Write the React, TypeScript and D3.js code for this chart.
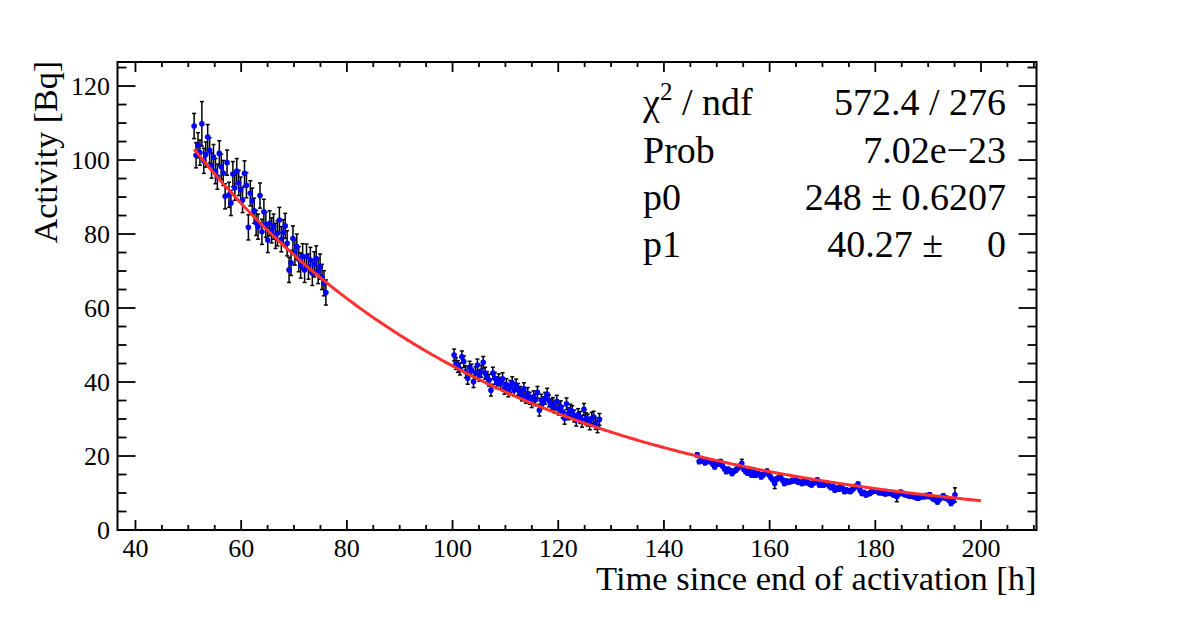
import { useRef, useEffect } from "react";
import * as d3 from "d3";

const WIDTH = 1182;
const HEIGHT = 619;

// one measurement every 22 minutes
const STEP_H = 22 / 60;

// run 1 (start time in hours after end of activation, activities in Bq)
const run1Start = 51.1;
const run1Activity = [
  109.2, 101.3, 104.0, 102.0, 109.8, 99.8, 101.5, 106.2, 102.6, 98.5,
  100.8, 97.0, 95.5, 101.8, 98.2, 96.5, 90.2, 99.3, 90.6, 88.4,
  96.2, 92.5, 97.0, 93.8, 92.0, 89.2, 96.4, 93.2, 81.8, 91.0,
  89.0, 86.3, 83.0, 82.0, 90.4, 80.6, 86.0, 82.5, 78.4, 82.9,
  81.0, 82.0, 79.5, 80.2, 83.8, 78.6, 80.5, 82.2, 77.5, 70.3,
  72.2, 78.8, 75.0, 76.6, 73.2, 71.5, 74.0, 70.3, 73.9, 71.2,
  73.0, 69.5, 71.8, 73.4, 70.0, 71.2, 68.4, 66.7, 64.2,
];

// run 2
const run2Start = 100.3;
const run2Activity = [
  47.3, 45.0, 44.2, 43.5, 46.8, 45.5, 42.8, 41.0, 44.0, 43.2,
  40.1, 42.5, 44.6, 41.8, 42.9, 45.3, 42.4, 41.2, 40.5, 37.8,
  42.4, 41.0, 39.8, 40.6, 39.6, 40.9, 38.3, 39.3, 37.6, 38.8,
  39.8, 37.8, 39.2, 38.0, 37.2, 36.5, 38.2, 35.9, 36.9, 35.6,
  34.7, 36.0, 35.2, 37.2, 32.4, 35.1, 34.4, 35.6, 36.7, 34.9,
  33.8, 34.2, 33.2, 34.8, 32.7, 33.3, 31.9, 30.2, 34.1, 31.4,
  32.4, 32.0, 30.8, 29.7, 31.2, 30.4, 29.4, 32.6, 30.1, 29.7,
  28.7, 30.2, 30.5, 28.8, 27.9, 29.9,
];

// run 3
const run3Start = 146.3;
const run3Activity = [
  20.3, 18.5, 18.9, 18.7, 18.2, 18.8, 18.5, 18.6, 17.9, 17.1,
  18.2, 17.8, 18.5, 17.4, 16.6, 15.8, 16.4, 16.0, 15.3, 15.9,
  16.2, 16.8, 17.2, 18.0, 16.5, 15.8, 15.4, 15.9, 14.9, 15.6,
  14.8, 15.3, 15.0, 14.4, 14.9, 15.4, 15.9, 15.0, 14.2, 13.6,
  12.6, 13.8, 14.1, 14.4, 13.5, 12.6, 13.2, 12.9, 13.1, 13.4,
  13.3, 13.7, 13.0, 12.9, 12.6, 13.2, 12.8, 13.1, 12.5, 12.2,
  12.7, 13.0, 13.5, 12.2, 12.6, 12.1, 12.4, 12.6, 12.0, 11.5,
  11.8, 10.8, 11.3, 11.0, 11.7, 11.2, 10.4, 10.8, 10.6, 10.4,
  10.9, 11.4, 11.8, 12.4, 10.8, 9.9, 10.1, 9.5, 9.8, 9.9,
  10.3, 10.5, 10.6, 10.4, 10.1, 10.2, 10.0, 9.8, 9.9, 10.1,
  9.9, 9.6, 9.4, 9.0, 9.8, 10.2, 9.9, 9.6, 9.5, 9.3,
  9.2, 9.4, 9.0, 8.8, 8.6, 8.9, 9.2, 9.0, 9.3, 9.1,
  9.5, 8.8, 8.4, 8.2, 7.6, 8.3, 8.8, 9.2, 8.7, 8.5,
  8.1, 7.2, 7.8, 9.5,
];

// typical uncertainty per run [Bq]
const runErrors = [3.4, 1.6, 0.55];
// points with a visibly larger error bar: [run, index, error]
const largeErrors: [number, number, number][] = [
  [0, 4, 6.0],
  [2, 23, 1.1],
  [2, 40, 1.4],
  [2, 103, 1.35],
  [2, 133, 1.9],
];

// fit: A(t) = p0 * exp(-ln2 * t / p1)
const fitP0 = 248;
const fitP1 = 40.27;
const fitFrom = 51.1;
const fitTo = 200;

const statLabels = ["χ2 / ndf", "Prob", "p0", "p1"];
const statValues = ["572.4 / 276", "7.02e\u221223", "248 \u00b1 0.6207", "40.27 \u00b1"];
const statExtra = ["", "", "", "0"];

const xTicks = [40, 60, 80, 100, 120, 140, 160, 180, 200];
const yTicks = [0, 20, 40, 60, 80, 100, 120];

export default function App() {
  const svgRef = useRef<SVGSVGElement>(null);

  useEffect(() => {
    if (!svgRef.current) return;
    const svg = d3.select(svgRef.current);
    svg.selectAll("*").remove();

    const font = "'Liberation Serif', 'Times New Roman', serif";
    const left = 117.5, right = 1036.5, top = 62, bottom = 530;

    const x = d3.scaleLinear().domain([36.6, 210.5]).range([left, right]);
    const y = d3.scaleLinear().domain([0, 126.5]).range([bottom, top]);

    const runs = [
      { start: run1Start, values: run1Activity },
      { start: run2Start, values: run2Activity },
      { start: run3Start, values: run3Activity },
    ];
    const points = runs.flatMap((r, ri) =>
      r.values.map((v, i) => {
        const big = largeErrors.find(e => e[0] === ri && e[1] === i);
        return { t: r.start + i * STEP_H, v, e: big ? big[2] : runErrors[ri] };
      })
    );

    // error bars
    const bars = svg.append("g").attr("stroke", "#000").attr("stroke-width", 1.5);
    bars.selectAll("line.v").data(points).join("line")
      .attr("x1", d => x(d.t)).attr("x2", d => x(d.t))
      .attr("y1", d => y(d.v - d.e)).attr("y2", d => y(d.v + d.e));
    bars.selectAll("line.c1").data(points).join("line")
      .attr("x1", d => x(d.t) - 2).attr("x2", d => x(d.t) + 2)
      .attr("y1", d => y(d.v + d.e)).attr("y2", d => y(d.v + d.e));
    bars.selectAll("line.c2").data(points).join("line")
      .attr("x1", d => x(d.t) - 2).attr("x2", d => x(d.t) + 2)
      .attr("y1", d => y(d.v - d.e)).attr("y2", d => y(d.v - d.e));

    // markers
    svg.append("g").selectAll("circle").data(points).join("circle")
      .attr("cx", d => x(d.t)).attr("cy", d => y(d.v))
      .attr("r", 2.8).attr("fill", "#0000ff");

    // fit curve
    const fit = (t: number) => fitP0 * Math.exp(-Math.LN2 * t / fitP1);
    const ts = d3.range(fitFrom, fitTo, 0.5).concat([fitTo]);
    const line = d3.line<number>().x(t => x(t)).y(t => y(fit(t)));
    svg.append("path").attr("d", line(ts))
      .attr("fill", "none").attr("stroke", "#ff3030").attr("stroke-width", 3);

    // stats box
    svg.append("rect").attr("x", 625).attr("y", 72).attr("width", 400).attr("height", 196)
      .attr("fill", "#fff");
    const rowY = [115, 163, 210, 257];
    const statSize = "38px";
    statLabels.forEach((lab, i) => {
      const t = svg.append("text").attr("x", 643).attr("y", rowY[i])
        .style("font-family", font).style("font-size", statSize);
      if (lab.startsWith("χ2")) {
        t.append("tspan").text("χ");
        t.append("tspan").attr("dy", -15).style("font-size", "25px").text("2");
        t.append("tspan").attr("dy", 15).text(" / ndf");
      } else {
        t.text(lab);
      }
      const extra = statExtra[i];
      svg.append("text").attr("x", extra ? 943 : 1006).attr("y", rowY[i])
        .attr("text-anchor", "end")
        .style("font-family", font).style("font-size", statSize)
        .text(statValues[i]);
      if (extra) {
        svg.append("text").attr("x", 1006).attr("y", rowY[i])
          .attr("text-anchor", "end")
          .style("font-family", font).style("font-size", statSize)
          .text(extra);
      }
    });

    // frame + ticks
    const axes = svg.append("g").attr("stroke", "#000").attr("fill", "none");
    axes.append("rect").attr("x", left).attr("y", top)
      .attr("width", right - left).attr("height", bottom - top).attr("stroke-width", 2);

    const xMinor = d3.range(40, 211, 5).filter(v => !xTicks.includes(v));
    const yMinor = d3.range(0, 127, 5).filter(v => !yTicks.includes(v));
    const tickGroup = axes.append("g").attr("stroke-width", 1.8);
    const addX = (vals: number[], len: number) => {
      vals.forEach(v => {
        tickGroup.append("line").attr("x1", x(v)).attr("x2", x(v)).attr("y1", bottom).attr("y2", bottom - len);
        tickGroup.append("line").attr("x1", x(v)).attr("x2", x(v)).attr("y1", top).attr("y2", top + len);
      });
    };
    const addY = (vals: number[], len: number) => {
      vals.forEach(v => {
        tickGroup.append("line").attr("x1", left).attr("x2", left + len).attr("y1", y(v)).attr("y2", y(v));
        tickGroup.append("line").attr("x1", right).attr("x2", right - len).attr("y1", y(v)).attr("y2", y(v));
      });
    };
    addX(xTicks, 10);
    addX(xMinor, 5);
    addY(yTicks, 18);
    addY(yMinor, 9);

    // tick labels
    svg.append("g").selectAll("text").data(xTicks).join("text")
      .attr("x", d => x(d)).attr("y", 557).attr("text-anchor", "middle")
      .style("font-family", font).style("font-size", "26px").text(d => d);
    svg.append("g").selectAll("text").data(yTicks).join("text")
      .attr("x", 110).attr("y", d => y(d) + 9).attr("text-anchor", "end")
      .style("font-family", font).style("font-size", "26px").text(d => d);

    // axis titles
    svg.append("text").attr("x", right).attr("y", 590).attr("text-anchor", "end")
      .style("font-family", font).style("font-size", "34.5px")
      .text("Time since end of activation [h]");
    svg.append("text").attr("transform", `translate(57, ${top - 1}) rotate(-90)`)
      .attr("text-anchor", "end")
      .style("font-family", font).style("font-size", "34px")
      .text("Activity [Bq]");
  }, []);

  return (
    <svg
      ref={svgRef}
      width={WIDTH}
      height={HEIGHT}
      style={{ position: "absolute", left: 0, top: 0, background: "#fff" }}
    />
  );
}
